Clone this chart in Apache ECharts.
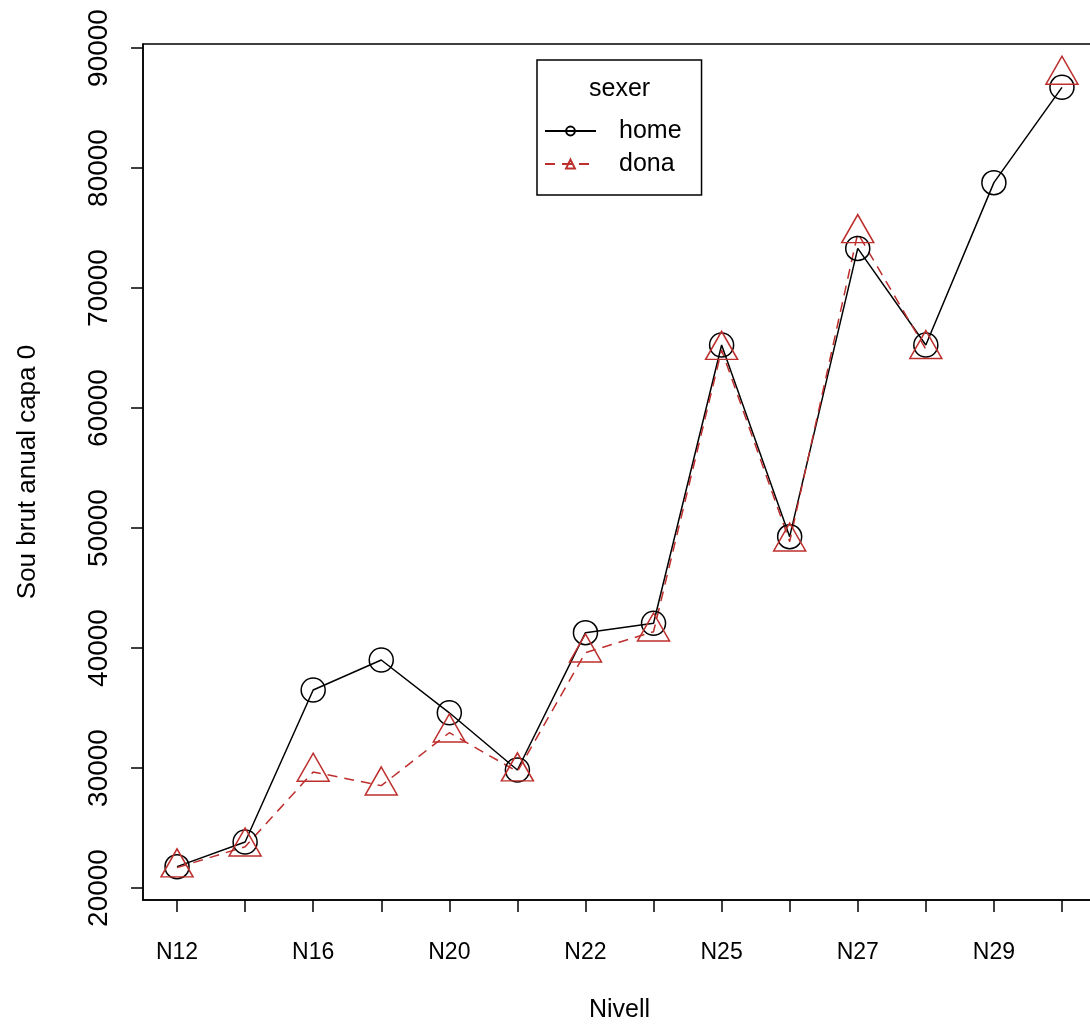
<!DOCTYPE html>
<html>
<head>
<meta charset="utf-8">
<script src="https://cdn.jsdelivr.net/npm/echarts@6/dist/echarts.min.js"></script>
<style>
  html, body { margin: 0; padding: 0; background: #fff; }
  #chart { width: 1090px; height: 1030px; }
</style>
</head>
<body>
<div id="chart"></div>
<script>
// niveles (només es veu una etiqueta de cada dues)
const nivells = ['N12', 'N14', 'N16', 'N18', 'N20', 'N21', 'N22', 'N24', 'N25', 'N26', 'N27', 'N28', 'N29', 'N30']
const home = [21780, 23830, 36500, 39000, 34600, 29830, 41280, 42060, 65250, 49280, 73300, 65250, 78780, 86720]
// N29 sense dada per a dones -> la línia es talla
const dona = [21700, 23440, 29670, 28530, 32940, 29700, 39610, 41360, 64830, 48860, 74560, 64900, null, 87750]
const yTicks = [20000, 30000, 40000, 50000, 60000, 70000, 80000, 90000]

const RED = '#bd2f2d'
const FONT = 'Liberation Sans, Arial, sans-serif'

const chart = echarts.init(document.getElementById('chart'), null, { renderer: 'canvas' })

chart.setOption({
  animation: false,
  backgroundColor: '#fff',
  textStyle: { fontFamily: FONT },
  title: {
    text: 'sexer',
    left: 589,
    top: 77,
    padding: 0,
    textStyle: { fontFamily: FONT, fontSize: 25, fontWeight: 'normal', color: '#000' },
  },
  legend: {
    data: ['home', 'dona'],
    orient: 'vertical',
    left: 537,
    top: 60,
    padding: [58, 20, 18, 7],
    borderColor: '#000',
    borderWidth: 1.5,
    itemWidth: 51,
    itemHeight: 11,
    itemGap: 7,
    selectedMode: false,
    textStyle: { fontFamily: FONT, fontSize: 25, color: '#000', lineHeight: 26, padding: [0, 0, 0, 18] },
  },
  // la caixa del gràfic surt una mica per la dreta, com a l'original
  grid: {
    left: 143,
    width: 953,
    top: 44,
    bottom: 130,
    outerBoundsMode: 'none',
    show: true,
    borderColor: '#000',
    borderWidth: 1.5,
  },
  xAxis: {
    type: 'category',
    data: nivells,
    name: 'Nivell',
    nameLocation: 'middle',
    nameGap: 98,
    nameTextStyle: { fontFamily: FONT, fontSize: 25, color: '#000' },
    axisLine: { lineStyle: { color: '#000', width: 1.5 } },
    axisTick: { show: true, alignWithLabel: true, interval: 0, length: 12, lineStyle: { color: '#000', width: 1.5 } },
    axisLabel: { interval: 1, margin: 41, fontFamily: FONT, fontSize: 23, color: '#000' },
    splitLine: { show: false },
  },
  yAxis: {
    type: 'value',
    min: 19000,
    max: 90333,
    name: 'Sou brut anual capa 0',
    nameLocation: 'middle',
    nameGap: 102,
    nameTextStyle: { fontFamily: FONT, fontSize: 26, color: '#000' },
    axisLine: { show: true, lineStyle: { color: '#000', width: 1.5 } },
    axisTick: { show: true, customValues: yTicks, length: 12, lineStyle: { color: '#000', width: 1.5 } },
    axisLabel: {
      customValues: yTicks,
      rotate: 90,
      margin: 30,
      fontFamily: FONT,
      fontSize: 28,
      color: '#000',
      formatter: (v) => String(v),
    },
    splitLine: { show: false },
  },
  series: [
    {
      name: 'home',
      type: 'line',
      data: home,
      symbol: 'circle',
      symbolSize: 24,
      itemStyle: { color: 'rgba(0,0,0,0)', borderColor: '#000', borderWidth: 1.5 },
      lineStyle: { color: '#000', width: 1.5 },
      emphasis: { disabled: true },
    },
    {
      name: 'dona',
      type: 'line',
      data: dona,
      connectNulls: false,
      symbol: 'triangle',
      symbolSize: [32, 28],
      symbolOffset: [0, -4.7],
      itemStyle: { color: 'rgba(0,0,0,0)', borderColor: RED, borderWidth: 1.5 },
      lineStyle: { color: RED, width: 1.5, type: [10, 7] },
      emphasis: { disabled: true },
    },
  ],
})
</script>
</body>
</html>
